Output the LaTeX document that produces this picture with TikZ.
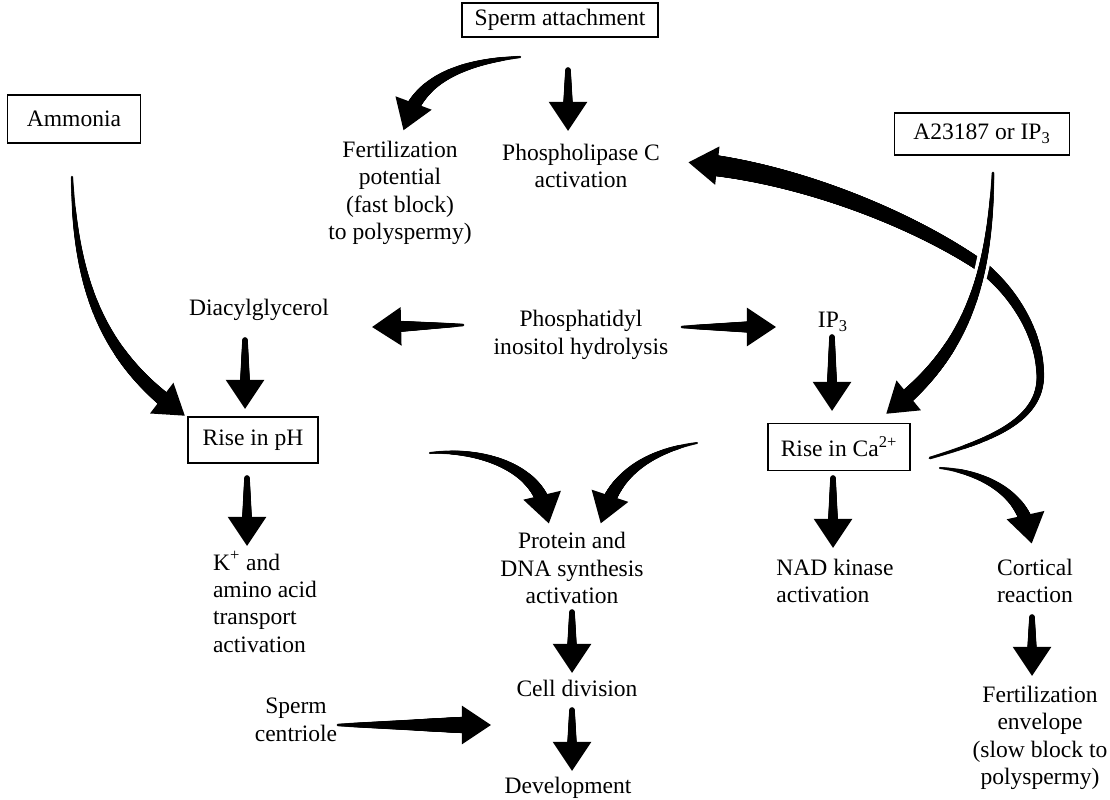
\documentclass[tikz,border=0pt]{standalone}
\usepackage{fontspec}
\setmainfont{Liberation Serif}
\usetikzlibrary{calc,decorations.markings}

\tikzset{
  % plain labels and boxed events
  txt/.style={align=center, inner sep=0pt, font=\fontsize{13.4}{15.6}\selectfont},
  event/.style={txt, draw, line width=1pt},
  % tapered arrow: #1 = half width at the tail, #2 = half width at the head (pt)
  fat/.style n args={2}{decoration={markings,
      mark=between positions 0 and -14pt step 0.4pt with {%
        \pgfmathsetmacro\shaftr{#1+(#2-#1)*\pgfkeysvalueof{/pgf/decoration/mark info/distance from start}/\pgfdecoratedpathlength}%
        \fill (0pt,0pt) circle (\shaftr pt);},
      mark=at position -8pt with {\fill (8.5pt,0pt) -- (-8pt,11pt) -- (-8pt,-11pt) -- cycle;}},
    postaction={decorate}},
  stub/.style={fat={1.6}{3.6}},
}

\begin{document}
\begin{tikzpicture}[x=0.02cm, y=0.02cm]
\useasboundingbox (0,0) rectangle (1110,-800);

\node[event, minimum width=3.92cm, minimum height=0.68cm] (sperm) at (560,-20) {Sperm attachment};
\node[event, minimum width=2.66cm, minimum height=0.96cm] (ammonia) at (74,-119) {Ammonia};
\node[event, minimum width=3.5cm, minimum height=0.84cm] (ionoph) at (982,-134) {A23187 or IP\textsubscript{3}};
\node[txt] (fastblock) at (400,-193) {Fertilization\\potential\\(fast block)\\to polyspermy)};
\node[txt] (plc) at (581,-166) {Phospholipase C\\activation};
\node[txt] (dag) at (259,-310) {Diacylglycerol};
\node[txt] (pih) at (581,-335) {Phosphatidyl\\inositol hydrolysis};
\node[txt] (ip3) at (833,-322) {IP\textsubscript{3}};
\node[event, minimum width=2.6cm, minimum height=0.92cm] (ph) at (253,-440) {Rise in pH};
\node[event, minimum width=2.84cm, minimum height=0.94cm] (ca) at (839,-447) {Rise in Ca\textsuperscript{2+}};
\node[txt, align=left] (transport) at (265,-602) {K\textsuperscript{+} and\\amino acid\\transport\\activation};
\node[txt] (synth) at (572,-568) {Protein and\\DNA synthesis\\activation};
\node[txt, align=left] (nad) at (835,-581) {NAD kinase\\activation};
\node[txt] (cortical) at (1035,-581) {Cortical\\reaction};
\node[txt] (envelope) at (1040,-738) {Fertilization\\envelope\\(slow block to\\polyspermy)};
\node[txt] (division) at (577,-688) {Cell division};
\node[txt] (develop) at (568,-788) {Development};
\node[txt] (centriole) at (296,-720) {Sperm\\centriole};

% short straight steps
\path[stub] ($(sperm)+(8,-50)$) -- ($(plc)+(-13,36)$);
\path[stub] ($(dag)+(-14,-30)$) -- ($(ph)+(-8,32)$);
\path[stub] ($(ip3)+(-1,-15)$) -- ($(ca)+(-7,37)$);
\path[stub] ($(ph)+(-6,-38)$) -- ($(transport)+(-18,57)$);
\path[stub] ($(ca)+(-6,-31)$) -- ($(nad)+(-2,34)$);
\path[stub] ($(synth)+(0,-44)$) -- ($(division)+(-5,16)$);
\path[stub] ($(division)+(-5,-22)$) -- ($(develop)+(4,18)$);
\path[stub] ($(cortical)+(-3,-36)$) -- ($(envelope)+(-8,63)$);
% sideways
\path[fat={0.8}{4.2}] ($(pih)+(-118,10)$) -- ($(dag)+(114,-17)$);
\path[fat={0.8}{4.2}] ($(pih)+(101,8)$) -- ($(ip3)+(-58,-5)$);
\path[fat={0.8}{5.5}] ($(centriole)+(42,-5)$) -- ($(division)+(-87,-37)$);
% curved ones
\path[fat={0.7}{4.5}] ($(sperm)+(-40,-37)$) to[out=185,in=80] ($(fastblock)+(5,63)$);
\path[fat={0.7}{4.5}] ($(ammonia)+(-2,-58)$) to[out=-88,in=145] ($(ph)+(-70,26)$);
\path[fat={0.6}{4.5}] ($(ph)+(177,-13)$) to[out=5,in=90] ($(synth)+(-25,45)$);
\path[fat={0.6}{4.5}] ($(ca)+(-142,4)$) to[out=190,in=80] ($(synth)+(30,45)$);
\path[fat={0.6}{4.5}] ($(ca)+(101,-21)$) to[out=-5,in=90] ($(cortical)+(-5,38)$);
% calcium feeds back on phospholipase C
\path[fat={0.8}{6.2}] ($(ca)+(91,-11)$) .. controls (990,-440) and (1045,-420) .. (1040,-370)
  .. controls (1038,-330) and (1010,-286) .. (975,-262)
  .. controls (905,-216) and (793,-172) .. ($(plc)+(112,3)$);
% ionophore, crossing over the feedback arrow
\path[preaction={draw=white, line width=8pt}, fat={0.8}{4.5}]
  ($(ionoph)+(11,-39)$) to[out=-92,in=37] ($(ca)+(49,35)$);
\end{tikzpicture}
\end{document}
